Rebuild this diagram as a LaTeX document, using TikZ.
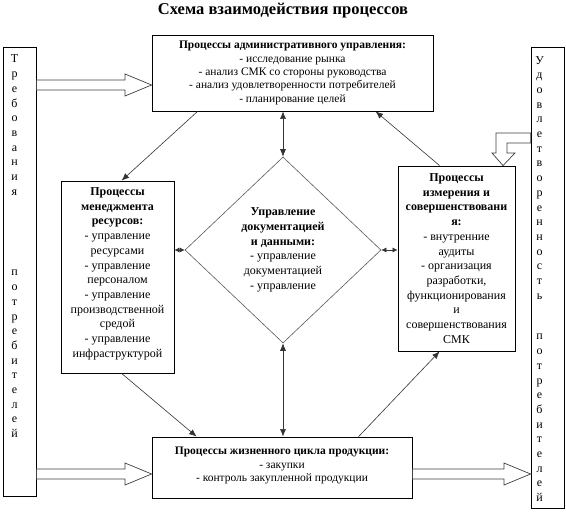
\documentclass[tikz,border=0pt]{standalone}
\usepackage{fontspec}
\setmainfont{Liberation Serif}
\usetikzlibrary{arrows.meta,shapes.geometric}
\begin{document}
\begin{tikzpicture}[x=1pt,y=-1pt,
  box/.style={draw=black,line width=0.8pt,align=center,inner sep=0pt,font={\fontsize{12}{14.7}\selectfont}},
  smallbox/.style={box,font={\fontsize{11.5}{13.4}\selectfont}},
  dia/.style={diamond,draw=black!65,line width=0.6pt,minimum width=196pt,minimum height=186pt,inner sep=0pt,align=center,font={\fontsize{12}{14.7}\selectfont}},
  col/.style={align=center,inner sep=0pt,font={\fontsize{12}{14.7}\selectfont}},
  sidebox/.style={draw=black,line width=0.8pt,inner sep=0pt,minimum width=33pt},
  conn/.style={draw=black!80,line width=0.6pt},
  arr/.style={-{Latex[length=7.5pt,width=6pt]}},
  darr/.style={{Latex[length=7.5pt,width=6pt]}-{Latex[length=7.5pt,width=6pt]}},
  sdarr/.style={{Latex[length=5pt,width=5pt]}-{Latex[length=5pt,width=5pt]}},
  hollow/.style={draw=black!75,line width=0.7pt,fill=white,line join=miter}
]
\useasboundingbox (0,0) rectangle (566,514);

\node[font={\bfseries\fontsize{16.5}{19}\selectfont}] (title) at (283,11) {Схема взаимодействия процессов};

\node[smallbox,minimum width=281pt,minimum height=76pt] (adm) at (292.5,73)
  {\textbf{Процессы административного управления:}\\- исследование рынка\\- анализ СМК со стороны руководства\\- анализ удовлетворенности потребителей\\- планирование целей};

\node[box,minimum width=113pt,minimum height=192pt] (res) at (117.5,277)
  {\textbf{Процессы}\\\textbf{менеджмента}\\\textbf{ресурсов:}\\- управление\\ресурсами\\- управление\\персоналом\\- управление\\производственной\\средой\\- управление\\инфраструктурой\rule[-9pt]{0pt}{0pt}};

\node[box,minimum width=117pt,minimum height=185pt] (meas) at (456.5,258.5)
  {\textbf{Процессы}\\\textbf{измерения и}\\\textbf{совершенствовани}\\\textbf{я:}\\- внутренние\\аудиты\\- организация\\разработки,\\функционирования\\и\\совершенствования\\СМК};

\node[dia] (dia) at (283,250)
  {\textbf{Управление}\\\textbf{документацией}\\\textbf{и данными:}\\- управление\\документацией\\- управление};

\node[smallbox,minimum width=260pt,minimum height=61pt] (bot) at (282,467.5)
  {\textbf{Процессы жизненного цикла продукции:}\\- закупки\\- контроль закупленной продукции\rule[-6pt]{0pt}{0pt}};

\node[sidebox,minimum height=449pt] (req) at (19.5,271.5) {};
\node[sidebox,minimum height=461pt] (sat) at (547.5,277.5) {};

\node[col] (reqtext) at (14.5,247.4)
  {\strut Т\\р\\е\\б\\о\\в\\а\\н\\и\\я\\[66pt]п\\о\\т\\р\\е\\б\\и\\т\\е\\л\\е\\й\strut};
\node[col] (sattext) at (539.5,279.9)
  {\strut У\\д\\о\\в\\л\\е\\т\\в\\о\\р\\е\\н\\н\\о\\с\\т\\ь\\[26pt]п\\о\\т\\р\\е\\б\\и\\т\\е\\л\\е\\й\strut};

% connectors
\draw[conn,arr] ([xshift=46pt]adm.south west) -- ([xshift=61pt]res.north west);
\draw[conn,arr] ([xshift=42pt]meas.north west) -- ([xshift=224pt]adm.south west);
\draw[conn,darr] (dia.north |- adm.south) -- (dia.north);
\draw[conn,sdarr] (dia.west -| res.east) -- (dia.west);
\draw[conn,sdarr] (dia.east) -- (dia.east -| meas.west);
\draw[conn,darr] (dia.south) -- (dia.south |- bot.north);
\draw[conn,arr] ([xshift=61pt]res.south west) -- ([xshift=45pt]bot.north west);
\draw[conn,arr] ([xshift=207pt]bot.north west) -- ([xshift=42pt]meas.south west);

% hollow arrows
\draw[hollow] (req.east |- 0,80) -- (125,80) -- (125,74) -- (adm.west |- 0,85) -- (125,96) -- (125,90) -- (req.east |- 0,90) -- cycle;
\draw[hollow] (req.east |- 0,469) -- (125,469) -- (125,463) -- (bot.west |- 0,474) -- (125,485) -- (125,479) -- (req.east |- 0,479) -- cycle;
\draw[hollow] (bot.east |- 0,469) -- (504,469) -- (504,463) -- (sat.west |- 0,474) -- (504,485) -- (504,479) -- (bot.east |- 0,479) -- cycle;
\draw[hollow] (sat.west |- 0,133) -- (496,133) -- (496,153) -- (492,153) -- (meas.north -| 503,0) -- (515,153) -- (507,153) -- (507,143) -- (sat.west |- 0,143) -- cycle;
\end{tikzpicture}
\end{document}
